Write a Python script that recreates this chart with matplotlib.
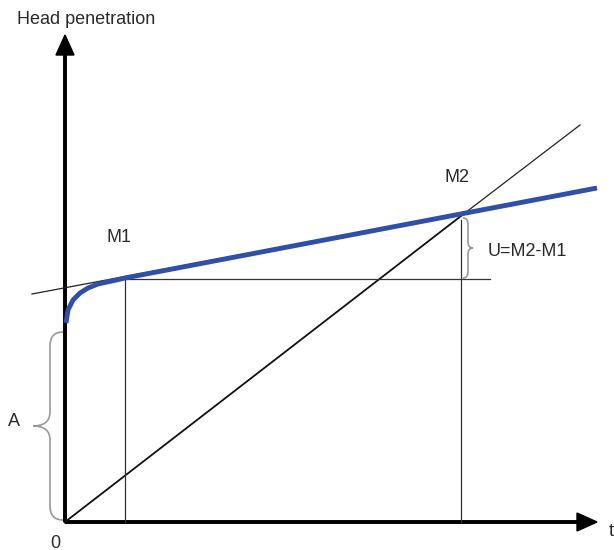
import numpy as np
import matplotlib
matplotlib.use('Agg')
import matplotlib.pyplot as plt
from matplotlib.path import Path
from matplotlib.patches import PathPatch

plt.rcParams['font.family'] = ['Liberation Sans', 'DejaVu Sans']

# blue penetration curve (origin at 0,0)
curve_x = [1, 3, 8, 15, 23, 33, 47, 60, 532]
curve_y = [199, 212, 222, 229, 234, 238, 241, 244, 334]
# key points
m1 = (60, 243)
m2 = (396, 306)
tangent_x = [-33, 530]
tangent_y = [228, 334]
diag_end = (515, 397)
hline_end = 425
y_top = 487
x_right = 532

fig = plt.figure(figsize=(6.14, 5.5), dpi=100)
ax = fig.add_axes([0, 0, 1, 1])
ax.set_xlim(-65, 549)
ax.set_ylim(-28, 522)
ax.axis('off')

def brace(ax, x, y0, y1, end, tip, r):
    ym = (y0 + y1) / 2.
    verts = [(x + end, y0), (x, y0), (x, y0 + r),
             (x, ym - r), (x, ym), (x + tip, ym),
             (x, ym), (x, ym + r),
             (x, y1 - r), (x, y1), (x + end, y1)]
    codes = [Path.MOVETO, Path.CURVE3, Path.CURVE3,
             Path.LINETO, Path.CURVE3, Path.CURVE3,
             Path.CURVE3, Path.CURVE3,
             Path.LINETO, Path.CURVE3, Path.CURVE3]
    ax.add_patch(PathPatch(Path(verts, codes), fc='none', ec='#999999', lw=1.2))

# thin lines
ax.plot(tangent_x, tangent_y, color='#222222', lw=0.9)
ax.plot([0, m2[0]], [0, m2[1]], color='#111111', lw=1.3)
ax.plot([m2[0], diag_end[0]], [m2[1], diag_end[1]], color='#222222', lw=0.9)
ax.plot([m1[0], hline_end], [m1[1], m1[1]], color='#333333', lw=0.9)
ax.plot([m1[0], m1[0]], [0, m1[1]], color='#333333', lw=0.9)
ax.plot([m2[0], m2[0]], [0, m2[1] - 4], color='#333333', lw=0.9)

# blue curve
ax.plot(curve_x, curve_y, color='#2f4fa8', lw=3.5, solid_capstyle='butt',
        solid_joinstyle='round')

# axes arrows
ax.arrow(0, 0, 0, y_top, width=2.5, head_width=18, head_length=20,
         length_includes_head=True, color='black')
ax.arrow(0, 0, x_right, 0, width=2.5, head_width=18, head_length=20,
         length_includes_head=True, color='black')

# braces
brace(ax, -15, 2, 190, 13, -17, 14)
brace(ax, 403, m1[1] + 1, m2[1] - 2, -5, 5, 6)

fs = 13
tc = '#2a2a2a'
ax.text(21, 502, 'Head penetration', ha='center', va='center', fontsize=fs, color=tc)
ax.text(546, -10, 't', ha='center', va='center', fontsize=fs, color=tc)
ax.text(-10, -21, '0', ha='center', va='center', fontsize=fs, color=tc)
ax.text(-51, 100, 'A', ha='center', va='center', fontsize=fs, color=tc)
ax.text(54, 284, 'M1', ha='center', va='center', fontsize=fs, color=tc)
ax.text(392, 345, 'M2', ha='center', va='center', fontsize=fs, color=tc)
ax.text(423, 270, 'U=M2-M1', ha='left', va='center', fontsize=fs, color=tc)

plt.savefig('out.png', dpi=100)
